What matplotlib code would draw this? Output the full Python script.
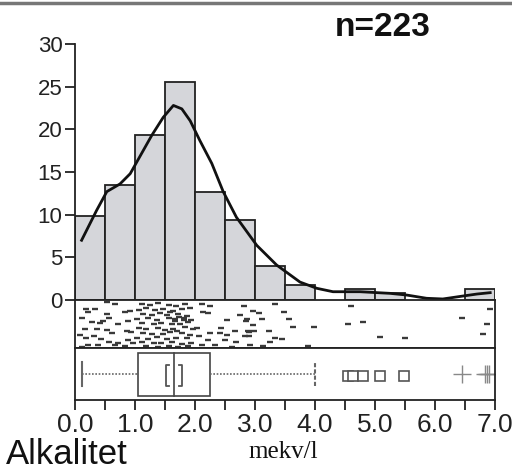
import matplotlib
matplotlib.use("Agg")
import matplotlib.pyplot as plt
from matplotlib.patches import Rectangle
from matplotlib.lines import Line2D

plt.rcParams["font.family"] = ["Liberation Sans", "DejaVu Sans"]

# histogram (percent of n=223), bins 0.5 mekv/l wide
bin_left = [0.0, 0.5, 1.0, 1.5, 2.0, 2.5, 3.0, 3.5, 4.0, 4.5, 5.0, 5.5, 6.0, 6.5]
bin_pct = [9.8, 13.5, 19.3, 25.5, 12.6, 9.4, 4.0, 1.8, 0.0, 1.3, 0.85, 0.0, 0.0, 1.3]

# density curve
curve_x = [0.11, 0.36, 0.53, 0.75, 0.92, 1.08, 1.28, 1.47, 1.64, 1.78, 1.92, 2.08,
           2.28, 2.47, 2.69, 3.03, 3.36, 3.75, 4.03, 4.3, 4.75, 5.25, 5.53, 5.86,
           6.13, 6.47, 6.7, 6.92]
curve_y = [7.0, 10.5, 12.7, 13.6, 14.8, 16.8, 19.3, 21.4, 22.8, 22.4, 21.0, 18.7,
           16.0, 12.7, 9.7, 6.4, 4.1, 2.1, 1.37, 0.97, 0.97, 0.78, 0.58, 0.2,
           0.12, 0.47, 0.7, 0.86]

# jittered strip of observations (x value, vertical position 0..1)
strip_x = [0.67, 0.53, 0.19, 0.22, 0.33, 0.53, 0.56, 0.83, 0.92, 0.42, 0.28, 0.47,
           0.11, 0.72, 0.89, 0.17, 0.36, 0.53, 0.61, 0.86, 0.94, 0.08, 0.19, 0.31,
           0.44, 0.56, 0.72, 0.89, 0.22, 0.39, 0.67, 0.83, 0.11, 0.97,
           1.11, 1.25, 1.39, 1.56, 1.69, 1.83,
           1.06, 1.19, 1.33, 1.47, 1.64, 1.78, 1.92,
           1.14, 1.28, 1.42, 1.53, 1.72, 1.86,
           1.03, 1.22, 1.36, 1.56, 1.67, 1.81, 1.94,
           1.11, 1.31, 1.44, 1.61, 1.75, 1.89,
           1.06, 1.19, 1.39, 1.50, 1.64, 1.83, 1.97,
           1.14, 1.28, 1.47, 1.58, 1.78, 1.92,
           1.03, 1.22, 1.36, 1.53, 1.69, 1.86,
           1.11, 1.31, 1.44, 1.61, 1.78, 1.94,
           1.19, 1.39, 1.56, 1.72, 1.89,
           1.66, 1.74, 1.82, 1.70, 1.58,
           2.11, 2.25, 2.14, 2.22, 2.81, 2.75, 2.53, 2.86, 2.03, 2.25, 2.44, 2.42,
           2.53, 2.67, 2.89, 2.06, 2.22, 2.50, 2.69, 2.83, 2.11, 2.33, 2.61, 2.92,
           3.33, 2.97, 3.07, 3.48, 3.12, 3.57, 2.85, 2.97, 3.63, 3.98, 2.90, 2.98,
           3.23, 2.90, 3.33, 3.45, 3.25, 3.13, 3.88,
           4.60, 4.55, 4.80, 5.08, 5.50, 6.45, 6.92, 6.87, 6.80]
strip_y = [0.91, 0.96, 0.81, 0.74, 0.82, 0.70, 0.63, 0.74, 0.77, 0.52, 0.54, 0.56,
           0.63, 0.49, 0.56, 0.40, 0.40, 0.37, 0.31, 0.35, 0.33, 0.28, 0.21, 0.24,
           0.18, 0.13, 0.10, 0.17, 0.06, 0.06, 0.06, 0.04, 0.03, 0.10,
           0.92, 0.89, 0.93, 0.90, 0.88, 0.92,
           0.80, 0.83, 0.79, 0.82, 0.78, 0.81, 0.84,
           0.71, 0.68, 0.72, 0.69, 0.70, 0.67,
           0.60, 0.62, 0.59, 0.63, 0.61, 0.62, 0.58,
           0.52, 0.50, 0.53, 0.49, 0.51, 0.54,
           0.41, 0.39, 0.42, 0.38, 0.40, 0.43, 0.39,
           0.32, 0.30, 0.29, 0.33, 0.31, 0.28,
           0.21, 0.19, 0.22, 0.18, 0.20, 0.21,
           0.12, 0.10, 0.11, 0.13, 0.09, 0.11,
           0.04, 0.03, 0.05, 0.03, 0.04,
           0.56, 0.65, 0.58, 0.35, 0.75,
           0.91, 0.88, 0.74, 0.72, 0.88, 0.68, 0.58, 0.60, 0.42, 0.31, 0.42, 0.31,
           0.28, 0.35, 0.35, 0.24, 0.17, 0.17, 0.13, 0.24, 0.06, 0.06, 0.03, 0.06,
           0.91, 0.77, 0.72, 0.74, 0.60, 0.60, 0.57, 0.47, 0.43, 0.43, 0.34, 0.36,
           0.36, 0.26, 0.21, 0.19, 0.13, 0.04, 0.04,
           0.87, 0.49, 0.55, 0.23, 0.21, 0.62, 0.81, 0.51, 0.30]

# box plot summary
whisker_lo = 0.12
q1, median, q3 = 1.05, 1.65, 2.25
whisker_hi = 4.0
ci_lo, ci_hi = 1.52, 1.78
outliers = [4.55, 4.63, 4.80, 5.08, 5.48]
far_outliers = [6.45, 6.83, 6.87, 6.90]

xticks_major = [0, 1, 2, 3, 4, 5, 6, 7]
xticks_minor = [0.5, 1.5, 2.5, 3.5, 4.5, 5.5, 6.5]
yticks = [0, 5, 10, 15, 20, 25, 30]

W, H = 512, 471
fig = plt.figure(figsize=(W / 100, H / 100), dpi=100)
edge = "#222222"

def frac(x0, y0, x1, y1):
    return [x0 / W, 1 - y1 / H, (x1 - x0) / W, (y1 - y0) / H]

# top border line of the scanned page
fig.add_artist(Line2D([0, 1], [1 - 3 / H, 1 - 3 / H], color="#777777", lw=2.5))

# histogram
ax = fig.add_axes(frac(75, 44, 495, 300))
for left, pct in zip(bin_left, bin_pct):
    if pct > 0:
        ax.bar(left, pct, width=0.5, align="edge", color="#d5d6da",
               edgecolor=edge, linewidth=1.3)
ax.plot(curve_x, curve_y, color="#111111", lw=2)
ax.set_xlim(0, 7)
ax.set_ylim(0, 30)
ax.set_yticks(yticks)
ax.tick_params(axis="y", length=7, width=1.3, labelsize=16, pad=2, colors=edge)
ax.set_xticks([])
for s in ["top", "right", "bottom"]:
    ax.spines[s].set_visible(False)
ax.spines["left"].set_linewidth(1.3)
ax.spines["left"].set_color(edge)
ax.patch.set_alpha(0)

# strip of observations
ax_s = fig.add_axes(frac(75, 300, 495, 348))
ax_s.plot(strip_x, strip_y, ls="none", marker="_", ms=4, mew=1.7, color="#3a3a3a")
ax_s.set_xlim(0, 7)
ax_s.set_ylim(0, 1)
ax_s.set_xticks([])
ax_s.set_yticks([])
for s in ax_s.spines.values():
    s.set_linewidth(1.3)
    s.set_color(edge)

# box plot
ax_b = fig.add_axes(frac(75, 348, 495, 400))
ax_b.set_xlim(0, 7)
ax_b.set_ylim(0, 1)
wcol = "#666666"
ax_b.plot([whisker_lo, q1], [0.5, 0.5], color=wcol, lw=1.2, ls=(0, (1, 1)))
ax_b.plot([q3, whisker_hi], [0.5, 0.5], color=wcol, lw=1.2, ls=(0, (1, 1)))
ax_b.plot([whisker_lo, whisker_lo], [0.27, 0.73], color=wcol, lw=1.5)
ax_b.plot([whisker_hi, whisker_hi], [0.27, 0.73], color=wcol, lw=1.5, ls=(0, (2, 1)))
ax_b.add_patch(Rectangle((q1, 0.08), q3 - q1, 0.82, facecolor="white",
                         edgecolor="#444444", lw=1.2))
ax_b.plot([median, median], [0.08, 0.9], color="#444444", lw=1.2)
# confidence brackets around the median
ax_b.plot([ci_lo + 0.05, ci_lo, ci_lo, ci_lo + 0.05], [0.67, 0.67, 0.27, 0.27],
          color="#555555", lw=1.3)
ax_b.plot([ci_hi - 0.05, ci_hi, ci_hi, ci_hi - 0.05], [0.67, 0.67, 0.27, 0.27],
          color="#555555", lw=1.3)
ax_b.plot(outliers, [0.46] * len(outliers), ls="none", marker="s", ms=7,
          mfc="white", mec="#555555", mew=1.2)
ax_b.plot(far_outliers, [0.5] * len(far_outliers), ls="none", marker="+", ms=13,
          mec="#888888", mew=1.0)
ax_b.set_yticks([])
ax_b.set_xticks(xticks_major)
ax_b.set_xticks(xticks_minor, minor=True)
ax_b.set_xticklabels([f"{t:.1f}" for t in xticks_major])
ax_b.tick_params(axis="x", which="both", length=7, width=1.3, colors=edge,
                 labelsize=19, pad=2)
for s in ax_b.spines.values():
    s.set_linewidth(1.3)
    s.set_color(edge)

fig.text(383 / W, 1 - 28 / H, "n=223", fontsize=24, fontweight="bold",
         ha="center", va="center", color="#111111")
fig.text(6 / W, 1 - 455 / H, "Alkalitet", fontsize=25, ha="left", va="center",
         color="#111111")
fig.text(283 / W, 1 - 452 / H, "mekv/l", fontsize=18, ha="center", va="center",
         family=["Liberation Serif", "DejaVu Serif"], color="#111111")

fig.savefig("out.png", dpi=100)
